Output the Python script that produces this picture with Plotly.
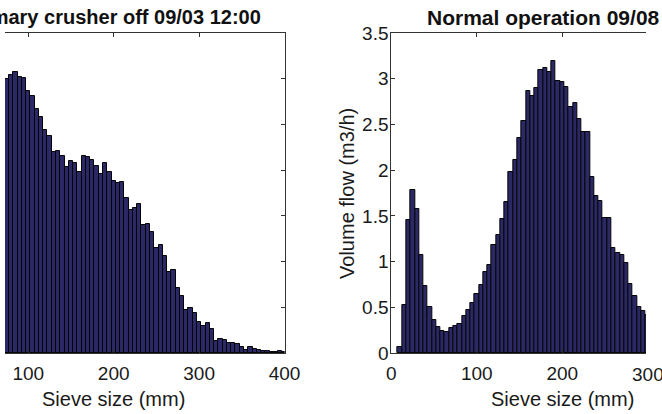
import plotly.graph_objects as go

# ---- data ----
left_sizes = list(range(75, 405, 5))
left_flow = [3.00, 3.04, 3.07, 3.02, 3.01,
             2.87, 2.81, 2.67, 2.58, 2.435, 2.37, 2.20, 2.21, 2.15, 2.03,
             2.10, 2.08, 1.98, 2.15, 2.14, 2.11, 2.04, 1.96, 2.08, 1.98,
             1.88, 1.86, 1.87, 1.69, 1.56, 1.59, 1.63, 1.40, 1.41, 1.32,
             1.15, 1.185, 1.065, 0.886, 0.91, 0.71, 0.627, 0.467, 0.49, 0.44,
             0.335, 0.29, 0.33, 0.26, 0.128, 0.153, 0.139, 0.11, 0.113, 0.095,
             0.062, 0.036, 0.066, 0.047, 0.03, 0.018, 0.018, 0.007, 0.015, 0.02,
             0.015]

right_sizes = list(range(10, 305, 5))
right_flow = [0.07, 0.53, 1.45, 1.78, 1.58, 1.07, 0.73, 0.50, 0.365, 0.28,
              0.24, 0.235, 0.27, 0.295, 0.32, 0.40, 0.47, 0.55,
              0.65, 0.74, 0.886, 0.967, 1.18, 1.29, 1.47, 1.65, 1.98, 2.11,
              2.35, 2.54, 2.87, 2.81, 2.90, 3.09, 3.12, 3.07, 3.19, 2.98,
              2.96, 2.91, 2.69, 2.73, 2.56, 2.42, 2.42, 1.93, 1.715, 1.66,
              1.48, 1.48, 1.15, 1.09, 1.07, 0.985, 0.75, 0.62, 0.50, 0.46,
              0.42]

x_ticks = [0, 100, 200, 300, 400]
y_ticks = [0, 0.5, 1, 1.5, 2, 2.5, 3, 3.5]
left_title = "Primary crusher off 09/03 12:00"
right_title = "Normal operation 09/08 12:00"
x_label = "Sieve size (mm)"
y_label = "Volume flow (m3/h)"

BAR = "rgb(43,40,102)"
EDGE = "#050505"
LINE = "#333333"
FONT = "Liberation Sans, Arial, sans-serif"
W, H = 662, 414
T, B = 33, 61.3
PH = H - T - B

# right panel spans 0..400 mm from px 399 at 0.8825 px/mm (clipped at image edge)
R0, RS = 399.0, 0.8825

def py(px):
    return (H - B - px) / PH

fig = go.Figure()
fig.add_trace(go.Bar(x=left_sizes, y=left_flow, width=5, xaxis="x", yaxis="y",
                     marker=dict(color=BAR, line=dict(color=EDGE, width=1)),
                     showlegend=False))
fig.add_trace(go.Bar(x=right_sizes, y=right_flow, width=5, xaxis="x2", yaxis="y2",
                     marker=dict(color=BAR, line=dict(color=EDGE, width=1)),
                     showlegend=False))

ax_common = dict(showline=True, linecolor=LINE, linewidth=1, ticks="inside",
                 ticklen=4, tickcolor=LINE, showgrid=False, zeroline=False,
                 tickfont=dict(family=FONT, size=19, color="#1a1a1a"))

fig.update_layout(
    width=W, height=H,
    margin=dict(l=0, r=0, t=T, b=B, pad=0),
    paper_bgcolor="white", plot_bgcolor="white",
    bargap=0,
    xaxis=dict(domain=[0, 288.7 / W], range=[72.8, 400], tickvals=x_ticks,
               mirror="ticks", anchor="y", ticklabelstandoff=3, **ax_common),
    yaxis=dict(domain=[0, 1], range=[0, 3.5], tickvals=y_ticks, side="right",
               showticklabels=False, anchor="x", **ax_common),
    xaxis2=dict(domain=[R0 / W, 1], range=[0, (W - R0) / RS], tickvals=x_ticks,
                mirror="ticks", anchor="y2", ticklabelstandoff=3, **ax_common),
    yaxis2=dict(domain=[0, 1], range=[0, 3.5], tickvals=y_ticks, anchor="x2",
                ticklabelstandoff=-2, **ax_common),
)

ann = []
ann.append(dict(text=f"<b>{left_title}</b>", xref="paper", yref="paper",
                x=266 / W, y=py(17.5),
                xanchor="right", yanchor="middle", showarrow=False,
                font=dict(family=FONT, size=20, color="#111")))
ann.append(dict(text=f"<b>{right_title}</b>", xref="paper", yref="paper",
                x=434 / W, y=py(17.5),
                xanchor="left", yanchor="middle", showarrow=False,
                font=dict(family=FONT, size=21, color="#111")))
ann.append(dict(text=x_label, xref="x", yref="paper", x=200, y=py(398.5),
                xanchor="center", yanchor="middle", showarrow=False,
                font=dict(family=FONT, size=20, color="#1a1a1a")))
ann.append(dict(text=x_label, xref="paper", yref="paper", x=(R0 + 200 * RS) / W,
                y=py(398.5), xanchor="center", yanchor="middle", showarrow=False,
                font=dict(family=FONT, size=20, color="#1a1a1a")))
ann.append(dict(text=y_label, xref="paper", yref="paper", x=353 / W, y=py(193),
                xanchor="center", yanchor="middle", textangle=-90, showarrow=False,
                font=dict(family=FONT, size=20, color="#1a1a1a")))
# tick label of the right panel that sits at the clipped edge
ann.append(dict(text=str(x_ticks[3]), xref="paper", yref="paper",
                x=(R0 + x_ticks[3] * RS) / W, y=py(374),
                xanchor="center", yanchor="middle", showarrow=False,
                font=dict(family=FONT, size=19, color="#1a1a1a")))
fig.update_layout(annotations=ann)

fig.write_html("out.html")
